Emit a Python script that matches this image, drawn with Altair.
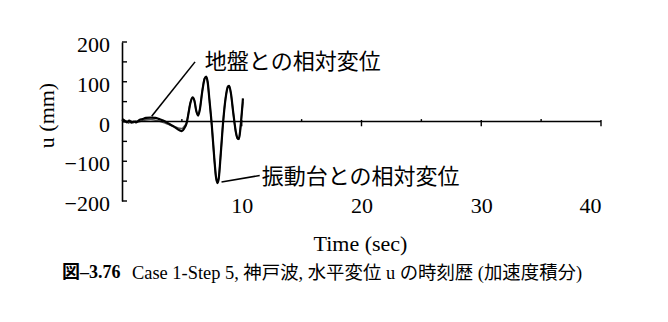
import altair as alt
import pandas as pd

FONT = "Liberation Serif, Noto Sans CJK JP"
JFONT = "Noto Sans CJK JP"

# series: relative displacement to shaking table (振動台) and to ground (地盤)
t_a = [0.0, 0.2, 0.4, 0.6, 0.8, 1.0, 1.2, 1.4, 1.7, 2.0, 2.4, 2.8, 3.2, 3.6, 4.0, 4.4,
       4.8, 5.0, 5.2, 5.4, 5.55, 5.7, 5.89, 6.05, 6.2, 6.36, 6.5, 6.7, 6.9, 7.03, 7.15,
       7.3, 7.5, 7.7, 7.85, 7.97, 8.08, 8.25, 8.45, 8.65, 8.85, 8.95, 9.1, 9.3, 9.5,
       9.65, 9.76, 9.88, 10.0, 10.1]
u_a = [6, 3, -2, 2, -3, 0, -2, 3, 6, 9, 10, 9, 5, 0, -7, -14,
       -22, -24, -17, -4, 20, 45, 61, 52, 27, 15, 30, 75, 108, 113, 100,
       55, -10, -90, -140, -155, -143, -80, 0, 58, 88, 90, 70, 20, -25,
       -42, -44, -20, 20, 58]
t_b = [0.0, 0.15, 0.35, 0.55, 0.75, 0.95, 1.15, 1.35, 1.7, 2.0, 2.4, 2.8, 3.2, 3.6, 4.0,
       4.4, 4.8, 5.0, 5.2, 5.4, 5.55, 5.7, 5.89, 6.05, 6.2, 6.36, 6.5, 6.7, 6.9, 7.03,
       7.15, 7.3, 7.5, 7.7, 7.85, 7.97, 8.08, 8.25, 8.45, 8.65, 8.85, 8.95, 9.1, 9.3,
       9.5, 9.65, 9.76, 9.88, 10.0, 10.1]
u_b = [4, -2, 1, -4, 1, -3, 1, -1, 2, 4, 5, 3, 0, -4, -9,
       -13, -17, -18, -12, -2, 21, 46, 60, 51, 26, 16, 31, 76, 109, 112,
       99, 54, -11, -91, -141, -153, -142, -79, 1, 59, 87, 89, 69, 19,
       -26, -43, -45, -19, 21, 50]

# axis label values, y-axis inner ticks, zero-line ticks
ylabel_vals = [-200, -100, 0, 100, 200]
ylabel_text = ["\u2212200", "\u2212100", "0", "100", "200"]
xlabel_vals = [10, 20, 30, 40]
ytick_vals = [-200, -150, -100, -50, 0, 50, 100, 150, 200]
xtick_major = [10, 20, 30, 40]
xtick_minor = [5, 15, 25, 35]

# annotations
ann_text = ["地盤との相対変位", "振動台との相対変位"]
ann_t = [6.92, 11.67]
ann_u = [150, -140]
lead_t1 = [2.48, 8.31]
lead_u1 = [13, -152]
lead_t2 = [6.1, 11.5]
lead_u2 = [150, -136]

df_a = pd.DataFrame({"t": t_a, "u": u_a})
df_b = pd.DataFrame({"t": t_b, "u": u_b})
df_yt = pd.DataFrame({"t": [0.0] * len(ytick_vals), "t2": [0.42] * len(ytick_vals), "u": ytick_vals})
df_xmaj = pd.DataFrame({"t": xtick_major, "u": [-12.0] * 4, "u2": [4.0] * 4})
df_xmin = pd.DataFrame({"t": xtick_minor, "u": [0.0] * 4, "u2": [6.0] * 4})
df_ann = pd.DataFrame({"t": ann_t, "u": ann_u, "label": ann_text})
df_lead = pd.DataFrame({"t": lead_t1, "u": lead_u1, "t2": lead_t2, "u2": lead_u2})
df_zero = pd.DataFrame({"t": [0], "t2": [40], "u": [0]})
df_ylab = pd.DataFrame({"t": [0.0] * len(ylabel_vals), "u": ylabel_vals, "lab": ylabel_text})

xs = alt.Scale(domain=[0, 40], nice=False)
ys = alt.Scale(domain=[-200, 200], nice=False)

x_axis = alt.Axis(values=xlabel_vals, domain=False, ticks=False, tickSize=0, grid=False,
                  labelFont=FONT, labelFontSize=22, labelColor="black", labelPadding=4,
                  labelBaseline="middle", labelOverlap=False,
                  title="Time (sec)", titleFont=FONT, titleFontSize=22,
                  titleFontWeight="normal", titleColor="black", titleX=238, titleY=42,
                  titleBaseline="middle")
y_axis = alt.Axis(domain=True, domainColor="black", domainWidth=1.6, ticks=False,
                  tickSize=0, grid=False, labels=False,
                  title="u (mm)", titleFont=FONT, titleFontSize=22, titleFontWeight="normal",
                  titleColor="black", titleAngle=270, titleX=-76, titleY=73,
                  titleAlign="center", titleBaseline="middle")

X = lambda f="t:Q": alt.X(f, scale=xs)
Y = lambda f="u:Q": alt.Y(f, scale=ys)

base_b = alt.Chart(df_b).mark_line(color="#555555", strokeWidth=1.6, interpolate="monotone").encode(
    x=alt.X("t:Q", scale=xs, axis=x_axis),
    y=alt.Y("u:Q", scale=ys, axis=y_axis),
)
line_a = alt.Chart(df_a).mark_line(color="black", strokeWidth=2.2, interpolate="monotone").encode(
    x=X(), y=Y())

zero = alt.Chart(df_zero).mark_rule(color="black", strokeWidth=1.6).encode(
    x=X(), x2="t2:Q", y=Y())
yt = alt.Chart(df_yt).mark_rule(color="black", strokeWidth=1.4).encode(
    x=X(), x2="t2:Q", y=Y())
xmaj = alt.Chart(df_xmaj).mark_rule(color="black", strokeWidth=1.4).encode(
    x=X(), y=Y(), y2="u2:Q")
xmin = alt.Chart(df_xmin).mark_rule(color="black", strokeWidth=1.4).encode(
    x=X(), y=Y(), y2="u2:Q")
lead = alt.Chart(df_lead).mark_rule(color="black", strokeWidth=1.6).encode(
    x=X(), y=Y(), x2="t2:Q", y2="u2:Q")
ann = alt.Chart(df_ann).mark_text(font=JFONT, fontSize=22, align="left", baseline="middle",
                                  color="black").encode(
    x=X(), y=Y(), text="label:N")
ylab = alt.Chart(df_ylab).mark_text(font=FONT, fontSize=22, align="right", baseline="middle",
                                    dx=-12, dy=3, color="black").encode(
    x=X(), y=Y(), text="lab:N")

cap1 = alt.Chart(pd.DataFrame({"c": ["図–3.76"]})).mark_text(
    font=FONT, fontSize=18, fontWeight="bold", align="left", baseline="middle", color="black"
).encode(x=alt.value(-60), y=alt.value(231), text="c:N")
cap2 = alt.Chart(pd.DataFrame({"c": ["Case 1-Step 5, 神戸波, 水平変位 u の時刻歴 (加速度積分)"]})).mark_text(
    font=FONT, fontSize=18.4, align="left", baseline="middle", color="black"
).encode(x=alt.value(10), y=alt.value(231), text="c:N")

chart = alt.layer(base_b, line_a, zero, yt, xmaj, xmin, lead, ann, ylab, cap1, cap2).properties(
    width=479, height=159,
    autosize=alt.AutoSizeParams(type="none"),
    padding={"left": 122, "top": 42, "right": 67, "bottom": 121},
    background="white",
).configure_view(stroke=None).configure_axis(labelOverlap=False)

chart.save("out.html", embed_options={"renderer": "svg", "actions": False})
